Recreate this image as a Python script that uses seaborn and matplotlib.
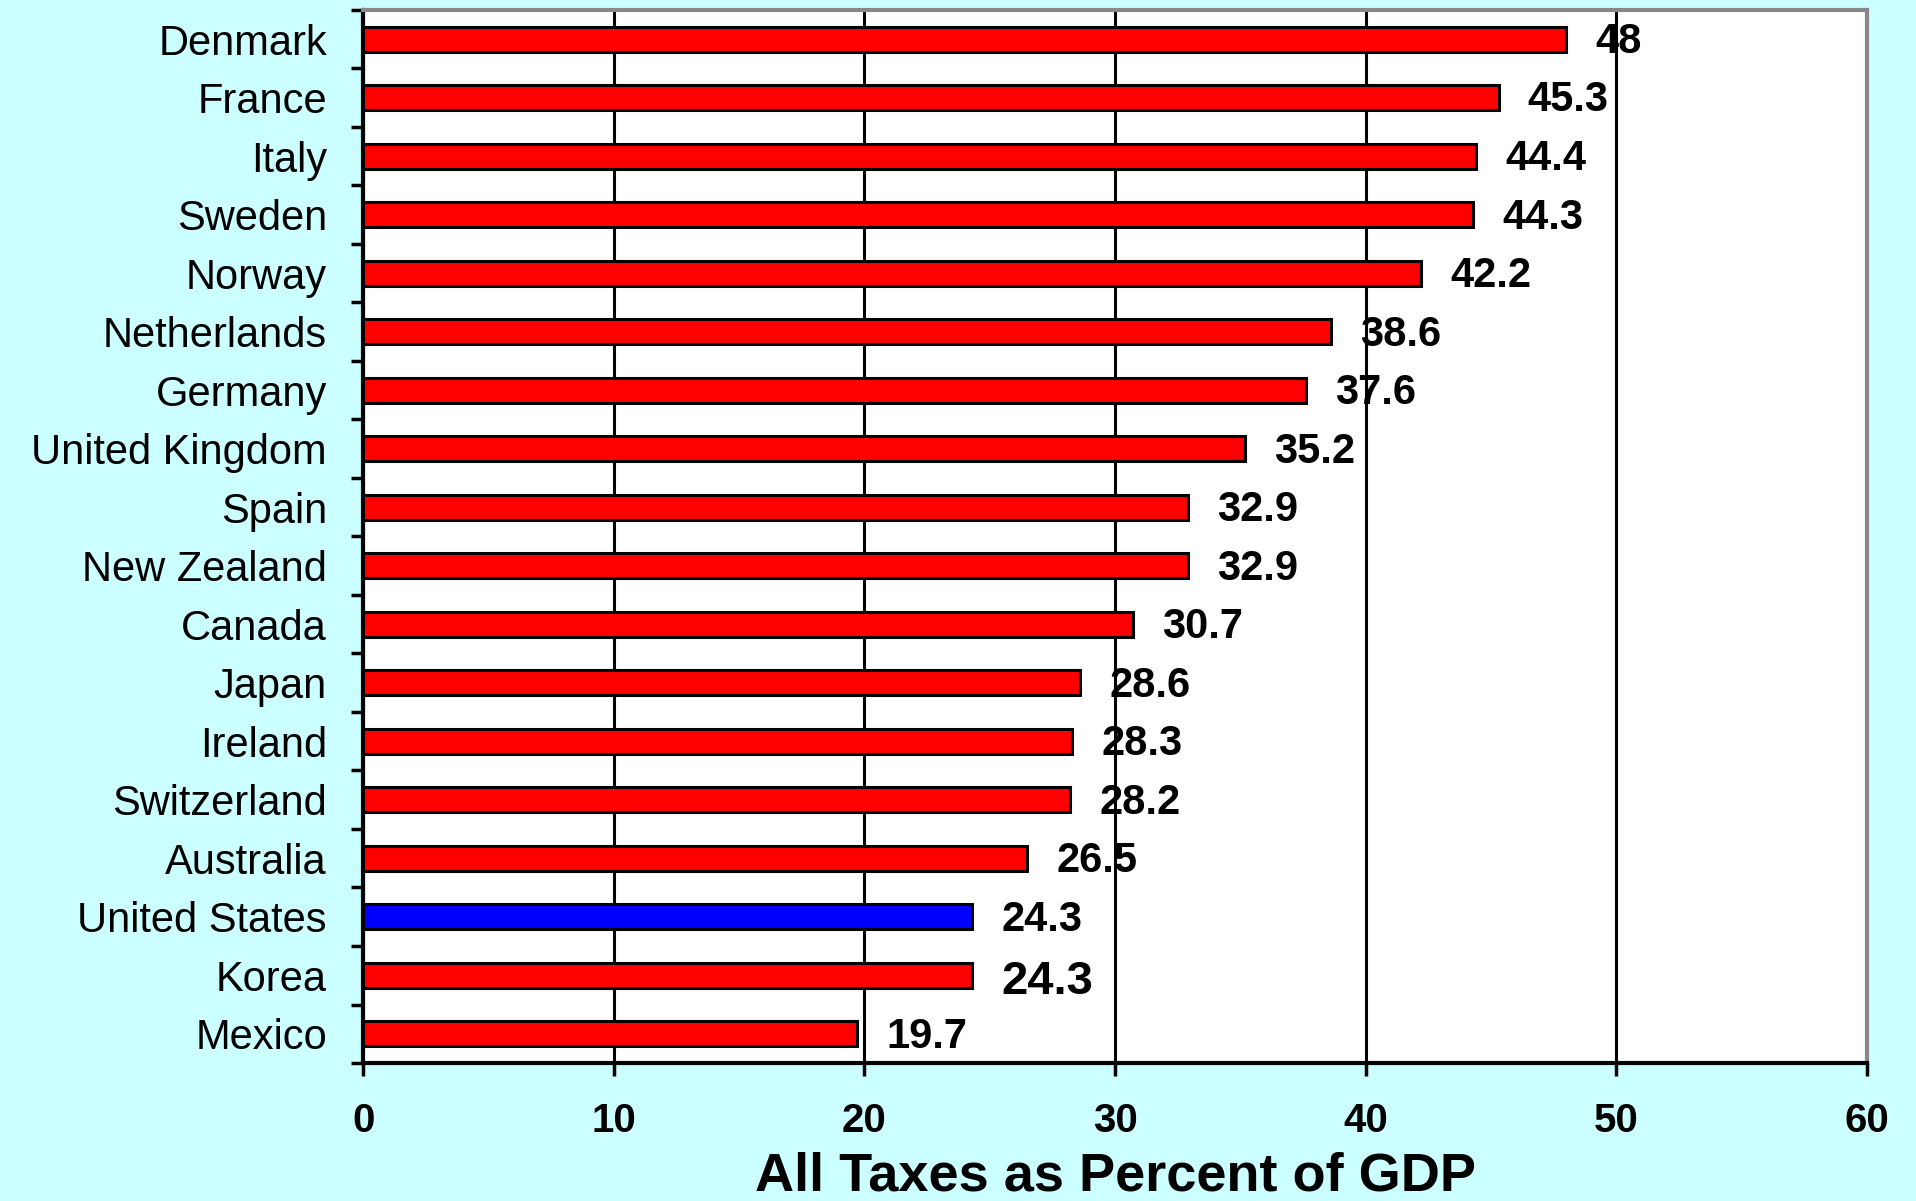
import matplotlib
matplotlib.use("Agg")
import matplotlib.pyplot as plt
import seaborn as sns
import pandas as pd
import numpy as np

countries = ["Denmark", "France", "Italy", "Sweden", "Norway", "Netherlands",
             "Germany", "United Kingdom", "Spain", "New Zealand", "Canada",
             "Japan", "Ireland", "Switzerland", "Australia", "United States",
             "Korea", "Mexico"]
values = [48, 45.3, 44.4, 44.3, 42.2, 38.6, 37.6, 35.2, 32.9, 32.9, 30.7,
          28.6, 28.3, 28.2, 26.5, 24.3, 24.3, 19.7]
value_labels = ["48", "45.3", "44.4", "44.3", "42.2", "38.6", "37.6", "35.2",
                "32.9", "32.9", "30.7", "28.6", "28.3", "28.2", "26.5", "24.3",
                "24.3", "19.7"]
groups = ["Other" if c != "United States" else "US" for c in countries]
xticks = [0, 10, 20, 30, 40, 50, 60]
xlabel = "All Taxes as Percent of GDP"

df = pd.DataFrame({"country": countries, "value": values, "group": groups})

sns.set_theme(style="white", rc={"text.color": "black", "xtick.color": "black",
                                 "ytick.color": "black", "axes.labelcolor": "black"})
plt.rcParams["font.family"] = ["Liberation Sans", "DejaVu Sans"]

BG = "#CCFFFF"
fig = plt.figure(figsize=(19.16, 12.01), dpi=100, facecolor=BG)
ax = fig.add_axes([0.1895, 0.1149, 0.9744 - 0.1895, 0.9917 - 0.1149])
ax.set_facecolor("white")

sns.barplot(data=df, y="country", x="value", hue="group", orient="h",
            palette={"Other": "#FF0000", "US": "#0000FF"}, width=0.43,
            saturation=1, edgecolor="black", linewidth=2.2, dodge=False,
            legend=False, order=countries, ax=ax, zorder=3)

ax.set_xlim(0, 60)
ax.set_ylim(len(countries) - 0.5, -0.5)
ax.set_xticks(xticks)
ax.set_xticklabels([str(t) for t in xticks], fontsize=29, fontweight="bold")
ax.tick_params(axis="x", length=9, width=2.5, color="black", pad=19,
               direction="out", bottom=True, labelcolor="black")
ax.tick_params(axis="y", which="major", length=0, pad=26, labelsize=30,
               labelcolor="black")
ax.set_yticks(np.arange(-0.5, len(countries), 1.0), minor=True)
ax.tick_params(axis="y", which="minor", length=9, width=2.5, color="black",
               direction="out", left=True)
ax.set_ylabel("")
ax.set_xlabel(xlabel, fontsize=39, fontweight="bold", color="black")
ax.xaxis.set_label_coords(0.5, -0.084)

ax.grid(axis="x", color="black", linewidth=2.2, zorder=0)
ax.grid(axis="y", visible=False)
ax.set_axisbelow(True)

for side in ["left", "bottom"]:
    ax.spines[side].set_color("black")
    ax.spines[side].set_linewidth(3)
    ax.spines[side].set_visible(True)
for side in ["top", "right"]:
    ax.spines[side].set_color("#888888")
    ax.spines[side].set_linewidth(3)
    ax.spines[side].set_visible(True)

for i, (v, lab, c) in enumerate(zip(values, value_labels, countries)):
    size = 34 if c == "Korea" else 30
    dy = -5 if c == "Korea" else -2
    ax.annotate(lab, xy=(v, i), xytext=(21, dy), textcoords="offset points",
                ha="left", va="center", fontsize=size, fontweight="bold",
                color="black", zorder=5, annotation_clip=False)

fig.savefig("out.png", dpi=100, facecolor=BG)
